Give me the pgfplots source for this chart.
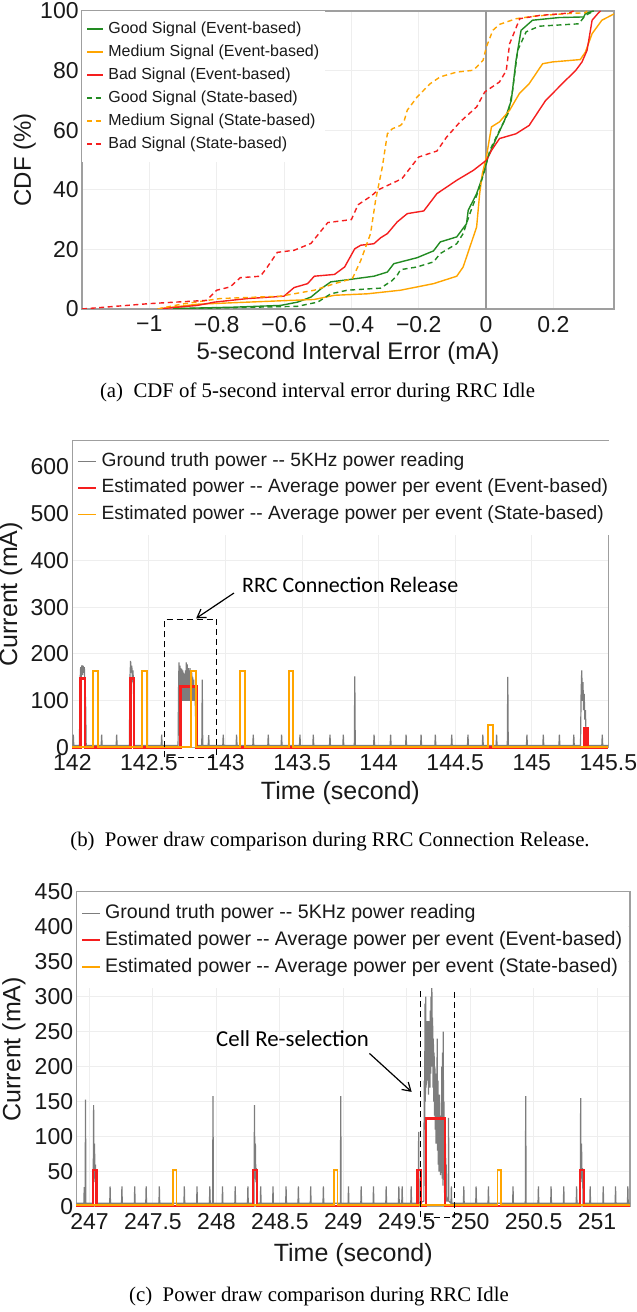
\documentclass[border=0pt]{standalone}
\usepackage{fontspec}
\setmainfont{Liberation Sans}
\newfontfamily\capfont{Liberation Serif}
\newfontfamily\annfont{Carlito}
\usepackage{pgfplots}
\pgfplotsset{compat=1.18}
\usetikzlibrary{arrows.meta}
\definecolor{cgreen}{RGB}{34,139,34}
\definecolor{corange}{RGB}{255,165,0}
\definecolor{cred}{RGB}{245,30,30}
\definecolor{cgray}{RGB}{125,125,125}
\definecolor{ctext}{RGB}{25,25,25}
\pgfplotsset{
  base/.style={
    scale only axis, anchor=south west,
    axis line style={draw=gray!75, line width=0.6pt},
    grid=major, major grid style={draw=gray!13, line width=0.5pt},
    major tick length=0pt,
    /pgf/number format/assume math mode=true,
    tick label style={text=ctext},
    label style={text=ctext},
    legend cell align=left,
  },
}
\begin{document}
\begin{tikzpicture}
\path[use as bounding box] (0,0) rectangle (318.5pt,656pt);

% ---------------- (a) ----------------
\begin{axis}[base, at={(41pt,501.5pt)}, width=266pt, height=149pt,
  xmin=-1.2, xmax=0.38, ymin=0, ymax=100,
  xtick={-1,-0.8,-0.6,-0.4,-0.2,0,0.2},
  xticklabels={−1,−0.8,−0.6,−0.4,−0.2,0,0.2},
  ytick={0,20,40,60,80,100},
  tick label style={font=\fontsize{11.5}{13}\selectfont},
  yticklabel style={inner xsep=1.5pt},
  xlabel={5-second Interval Error (mA)}, ylabel={CDF (\%)},
  label style={font=\fontsize{12}{14}\selectfont},
  xlabel style={at={(axis description cs:0.5,-0.147)}, anchor=center},
  ylabel style={at={(axis description cs:-0.108,0.5)}, anchor=center},
  legend image code/.code={\draw[#1] (0pt,0pt) -- (8pt,0pt);},
  legend style={at={(0,1)}, anchor=north west, draw=none, fill=white,
    inner xsep=2pt, inner ysep=3.9pt, text=ctext,
    font=\fontsize{8}{9}\selectfont, row sep=1.5pt,
    nodes={inner sep=1pt, text height=6pt, text depth=2pt},
    /tikz/every odd column/.append style={column sep=1.3pt}},
  every axis plot/.append style={line width=0.7pt},
]
\addplot[forget plot, draw=gray!80, line width=0.6pt] coordinates {(0,0) (0,100)};
\addplot[cgreen] coordinates {(-0.93,0) (-0.906,0.2) (-0.75,0.6) (-0.61,1.2) (-0.56,2.3) (-0.52,4) (-0.49,6.8) (-0.461,9.1) (-0.412,9.8) (-0.333,11) (-0.293,12.4) (-0.274,15.2) (-0.205,17.2) (-0.156,19.5) (-0.136,22.5) (-0.087,24.2) (-0.058,28.6) (-0.053,33.1) (-0.028,38.7) (-0.014,43.2) (0.006,51) (0.03,57.2) (0.055,63.3) (0.075,70) (0.089,83.4) (0.104,93.5) (0.138,96.9) (0.217,97.8) (0.29,98) (0.295,99.1) (0.31,99.7) (0.32,100)};
\addlegendentry{Good Signal (Event-based)}
\addplot[corange] coordinates {(-0.975,0) (-0.857,1.6) (-0.708,2.3) (-0.51,3.2) (-0.45,4.6) (-0.352,5.1) (-0.254,6.3) (-0.205,7.4) (-0.156,8.5) (-0.087,11) (-0.068,14.1) (-0.048,20.8) (-0.028,27.5) (-0.019,38.7) (-0.011,45.4) (0.001,51) (0.016,61.1) (0.04,62.8) (0.07,66.7) (0.099,72.3) (0.128,75.6) (0.168,82.3) (0.197,82.9) (0.28,83.7) (0.295,86.2) (0.315,92.4) (0.344,96.9) (0.378,98.9) (0.38,99)};
\addlegendentry{Medium Signal (Event-based)}
\addplot[cred] coordinates {(-0.975,0) (-0.857,1.2) (-0.807,2.3) (-0.708,3.5) (-0.6,4.3) (-0.57,7.2) (-0.53,8.5) (-0.51,11) (-0.45,11.6) (-0.42,14.1) (-0.39,20.2) (-0.372,21.4) (-0.333,21.9) (-0.313,23.9) (-0.293,25.3) (-0.264,29.2) (-0.234,32) (-0.185,32.9) (-0.146,38.7) (-0.117,40.9) (-0.087,43.2) (-0.038,46.5) (0.001,49.9) (0.016,53.2) (0.04,57.2) (0.089,58.8) (0.128,61.6) (0.177,70) (0.207,73.4) (0.236,76.7) (0.266,80) (0.285,82.9) (0.3,86.8) (0.315,96.9) (0.334,99.4) (0.34,100)};
\addlegendentry{Bad Signal (Event-based)}
\addplot[cgreen, dash pattern=on 2.5pt off 1.8pt] coordinates {(-0.93,0) (-0.906,0.1) (-0.56,0.9) (-0.5,2.3) (-0.461,5.1) (-0.412,6.3) (-0.313,7) (-0.293,8.5) (-0.283,9.1) (-0.264,11.3) (-0.254,13.2) (-0.205,14.1) (-0.156,15.8) (-0.136,18.6) (-0.087,21.9) (-0.068,25.3) (-0.048,32) (-0.024,39.3) (-0.004,46.5) (0.011,53.2) (0.035,58.8) (0.065,65.5) (0.079,73.4) (0.094,86.8) (0.119,93) (0.158,94.9) (0.275,95.7) (0.295,98.5) (0.315,99.7) (0.32,100)};
\addlegendentry{Good Signal (State-based)}
\addplot[corange, dash pattern=on 2.5pt off 1.8pt] coordinates {(-0.975,0) (-0.963,0.3) (-0.906,1.6) (-0.79,3.5) (-0.61,4.3) (-0.51,6.3) (-0.45,8.5) (-0.397,10.2) (-0.372,16.3) (-0.343,25.3) (-0.328,36.5) (-0.308,47.7) (-0.293,58.8) (-0.278,60.5) (-0.254,61.6) (-0.244,62.8) (-0.234,66.7) (-0.205,71.1) (-0.166,75.6) (-0.136,77.9) (-0.087,79.5) (-0.038,80.1) (-0.009,83.4) (0.001,87.9) (0.02,93.5) (0.04,95.5) (0.089,97.4) (0.138,98.2) (0.236,99.1) (0.295,99.4) (0.3,100)};
\addlegendentry{Medium Signal (State-based)}
\addplot[cred, dash pattern=on 2.5pt off 1.8pt] coordinates {(-1.2,0) (-1.0,1.8) (-0.83,2.9) (-0.8,6.3) (-0.76,7.4) (-0.73,10.5) (-0.67,11) (-0.65,14) (-0.62,19) (-0.57,19.7) (-0.52,22) (-0.47,29) (-0.40,30) (-0.38,35) (-0.34,38) (-0.32,40) (-0.25,43.7) (-0.2,51) (-0.146,53) (-0.117,57.7) (-0.077,62.8) (-0.028,67.8) (-0.004,72.8) (0.04,76.2) (0.06,80) (0.07,89) (0.10,97.4) (0.158,98.5) (0.246,99.3) (0.26,100)};
\addlegendentry{Bad Signal (State-based)}
\end{axis}
\node[font=\capfont\fontsize{10.4}{12}\selectfont] at (158.75pt,460pt) {(a)\hspace{0.5em}CDF of 5-second interval error during RRC Idle};

% ---------------- (b) ----------------
\begin{axis}[base, at={(36.2pt,282.15pt)}, width=268pt, height=153.5pt, clip=false,
  xmin=142, xmax=145.5, ymin=0, ymax=655,
  xtick={142,142.5,143,143.5,144,144.5,145,145.5},
  xticklabels={142,142.5,143,143.5,144,144.5,145,145.5},
  ytick={0,100,200,300,400,500,600},
  tick label style={font=\fontsize{11.5}{13}\selectfont},
  yticklabel style={inner xsep=1.5pt},
  xlabel={Time (second)}, ylabel={Current (mA)},
  label style={font=\fontsize{12.5}{14}\selectfont},
  xlabel style={at={(axis description cs:0.5,-0.148)}, anchor=center},
  ylabel style={at={(axis description cs:-0.115,0.5)}, anchor=center},
  legend image code/.code={\draw[#1] (0pt,0pt) -- (9pt,0pt);},
  legend style={at={(0,1)}, anchor=north west, draw=none, fill=white,
    inner xsep=2pt, inner ysep=4.5pt, text=ctext,
    font=\fontsize{9.6}{11}\selectfont, row sep=1.75pt,
    nodes={inner sep=1pt, text height=7.2pt, text depth=2.3pt},
    /tikz/every odd column/.append style={column sep=1pt}},
]
\addplot[cgray, line width=0.6pt] coordinates {
(142,5)(142.003,5)(142.006,28)(142.009,5)
(142.046,5)(142.05,140)(142.054,172)(142.058,150)(142.062,176)(142.066,155)(142.07,175)(142.074,160)(142.078,172)(142.082,130)(142.086,100)(142.09,5)
(142.188,5)(142.191,28)(142.194,5)
(142.286,5)(142.289,28)(142.292,5)
(142.372,5)(142.376,150)(142.38,185)(142.384,160)(142.388,175)(142.392,140)(142.396,165)(142.4,110)(142.404,5)
(142.58,5)(142.583,28)(142.586,5)
(142.69,5)(142.693,120)(142.696,182)(142.699,100)(142.702,175)(142.705,100)(142.708,170)(142.711,100)(142.714,168)(142.717,100)(142.72,165)(142.723,100)(142.726,160)(142.729,100)(142.732,158)(142.735,100)(142.738,165)(142.741,100)(142.744,182)(142.747,100)(142.75,178)(142.753,100)(142.756,170)(142.759,100)(142.762,165)(142.765,100)(142.768,170)(142.771,100)(142.774,165)(142.777,100)(142.78,160)(142.783,100)(142.786,150)(142.789,100)(142.792,145)(142.795,100)(142.8,130)(142.805,60)(142.81,5)
(142.845,5)(142.848,145)(142.851,5)
(142.887,5)(142.89,27)(142.893,5)
(142.982,5)(142.985,28)(142.988,5)
(143.069,5)(143.072,28)(143.075,5)
(143.178,5)(143.181,28)(143.184,5)
(143.276,5)(143.279,28)(143.282,5)
(143.363,5)(143.366,28)(143.369,5)
(143.483,5)(143.486,28)(143.489,5)
(143.57,5)(143.573,28)(143.576,5)
(143.679,5)(143.682,28)(143.685,5)
(143.766,5)(143.769,28)(143.772,5)
(143.841,5)(143.844,152)(143.847,5)
(143.967,5)(143.97,28)(143.973,5)
(144.075,5)(144.078,28)(144.081,5)
(144.176,5)(144.179,28)(144.182,5)
(144.274,5)(144.277,28)(144.28,5)
(144.367,5)(144.37,28)(144.373,5)
(144.474,5)(144.477,28)(144.48,5)
(144.58,5)(144.583,28)(144.586,5)
(144.677,5)(144.68,28)(144.683,5)
(144.767,5)(144.77,28)(144.773,5)
(144.84,5)(144.843,151)(144.846,5)
(144.965,5)(144.968,28)(144.971,5)
(145.072,5)(145.075,28)(145.078,5)
(145.177,5)(145.18,28)(145.183,5)
(145.271,5)(145.274,28)(145.277,5)
(145.318,5)(145.322,120)(145.326,165)(145.33,100)(145.334,140)(145.338,80)(145.342,115)(145.346,60)(145.35,80)(145.354,30)(145.358,5)
(145.457,5)(145.46,28)(145.463,5)(145.5,5)};
\addlegendentry{Ground truth power -{}- 5KHz power reading}
\addplot[cred, line width=1.4pt] coordinates {(142,1)(142.055,1)(142.055,148)(142.082,148)(142.082,1)(142.377,1)(142.377,148)(142.402,148)(142.402,1)(142.707,1)(142.707,130)(142.812,130)(142.812,1)(145.342,1)(145.342,41)(145.366,41)(145.366,1)(145.5,1)};
\addlegendentry{Estimated power -{}- Average power per event (Event-based)}
\addplot[corange, line width=0.9pt] coordinates {(142,2)(142.137,2)(142.137,164)(142.169,164)(142.169,2)(142.455,2)(142.455,164)(142.489,164)(142.489,2)(142.775,2)(142.775,164)(142.807,164)(142.807,2)(143.095,2)(143.095,164)(143.125,164)(143.125,2)(143.413,2)(143.413,164)(143.443,164)(143.443,2)(144.716,2)(144.716,48)(144.745,48)(144.745,2)(145.5,2)};
\addlegendentry{Estimated power -{}- Average power per event (State-based)}
\draw[black, line width=0.6pt, dash pattern=on 3pt off 2pt] (axis cs:142.603,-20.6) rectangle (axis cs:142.941,274);
\draw[black, line width=0.6pt, -{Straight Barb[length=4pt,width=5pt]}] (axis cs:143.055,330) -- (axis cs:142.808,276);
\node[font=\annfont\fontsize{11}{13}\selectfont, text=black] at (axis cs:143.814,347) {RRC Connection Release};
\end{axis}
\node[font=\capfont\fontsize{10.4}{12}\selectfont] at (165pt,235pt) {(b)\hspace{0.5em}Power draw comparison during RRC Connection Release.};

% ---------------- (c) ----------------
\begin{axis}[base, at={(38.25pt,52.65pt)}, width=276.75pt, height=157.5pt, clip=false,
  xmin=246.897, xmax=251.26, ymin=0, ymax=450,
  xtick={247,247.5,248,248.5,249,249.5,250,250.5,251},
  xticklabels={247,247.5,248,248.5,249,249.5,250,250.5,251},
  ytick={0,50,100,150,200,250,300,350,400,450},
  tick label style={font=\fontsize{11.5}{13}\selectfont},
  yticklabel style={inner xsep=1.5pt},
  xlabel={Time (second)}, ylabel={Current (mA)},
  label style={font=\fontsize{12.5}{14}\selectfont},
  xlabel style={at={(axis description cs:0.5,-0.152)}, anchor=center},
  ylabel style={at={(axis description cs:-0.113,0.5)}, anchor=center},
  legend image code/.code={\draw[#1] (0pt,0pt) -- (9pt,0pt);},
  legend style={at={(0,1)}, anchor=north west, draw=none, fill=white,
    inner xsep=2pt, inner ysep=4.5pt, text=ctext,
    font=\fontsize{9.8}{11}\selectfont, row sep=1.5pt,
    nodes={inner sep=1pt, text height=7.5pt, text depth=2.5pt},
    /tikz/every odd column/.append style={column sep=1pt}},
]
\addplot[cgray, line width=0.6pt] coordinates {
(246.897,5)(246.955,5)(246.958,28)(246.961,5)(246.965,5)(246.968,153)(246.971,5)
(247.028,5)(247.032,145)(247.035,40)(247.039,90)(247.043,35)(247.047,60)(247.051,5)
(247.159,5)(247.162,29)(247.165,5)
(247.252,5)(247.255,29)(247.258,5)
(247.353,5)(247.356,29)(247.359,5)
(247.443,5)(247.446,29)(247.449,5)
(247.547,5)(247.55,29)(247.553,5)
(247.744,5)(247.747,29)(247.75,5)
(247.844,5)(247.847,29)(247.85,5)
(247.945,5)(247.948,29)(247.951,5)
(247.97,5)(247.973,158)(247.976,5)
(248.045,5)(248.048,29)(248.051,5)
(248.145,5)(248.148,29)(248.151,5)
(248.245,5)(248.248,29)(248.251,5)
(248.296,5)(248.3,145)(248.303,40)(248.307,90)(248.311,35)(248.315,55)(248.319,5)
(248.346,5)(248.349,29)(248.352,5)
(248.443,5)(248.446,29)(248.449,5)
(248.546,5)(248.549,29)(248.552,5)
(248.643,5)(248.646,29)(248.649,5)
(248.74,5)(248.743,29)(248.746,5)
(248.84,5)(248.843,29)(248.846,5)
(248.977,5)(248.98,158)(248.983,5)
(249.038,5)(249.041,29)(249.044,5)
(249.138,5)(249.141,29)(249.144,5)
(249.235,5)(249.238,29)(249.241,5)
(249.335,5)(249.338,29)(249.341,5)
(249.435,5)(249.438,29)(249.441,5)(249.461,5)(249.464,29)(249.467,5)
(249.532,5)(249.535,29)(249.538,5)
(249.591,5)(249.594,107)(249.597,5)
(249.635,8)(249.638,180)(249.641,110)(249.644,290)(249.647,150)(249.65,300)(249.653,170)(249.656,260)(249.659,190)(249.662,265)(249.665,180)(249.668,250)(249.671,160)(249.674,265)(249.677,200)(249.68,250)(249.683,170)(249.686,280)(249.689,190)(249.692,300)(249.695,210)(249.698,325)(249.701,200)(249.704,270)(249.707,170)(249.71,240)(249.713,150)(249.716,220)(249.719,130)(249.722,200)(249.725,110)(249.728,190)(249.731,90)(249.734,170)(249.737,100)(249.74,240)(249.743,80)(249.746,180)(249.749,60)(249.752,150)(249.755,50)(249.758,160)(249.761,70)(249.764,120)(249.767,45)(249.77,130)(249.773,60)(249.776,200)(249.779,40)(249.782,220)(249.785,30)(249.788,250)(249.791,60)(249.794,150)(249.797,20)(249.8,100)(249.803,25)(249.806,90)(249.809,15)(249.812,60)(249.815,8)(249.828,8)(249.83,127)(249.832,8)
(249.849,5)(249.852,29)(249.855,5)
(249.947,5)(249.95,29)(249.953,5)
(250.044,5)(250.047,29)(250.05,5)
(250.141,5)(250.144,29)(250.147,5)
(250.335,5)(250.338,29)(250.341,5)
(250.435,5)(250.438,158)(250.441,5)
(250.535,5)(250.538,29)(250.541,5)
(250.635,5)(250.638,29)(250.641,5)
(250.735,5)(250.738,29)(250.741,5)
(250.836,5)(250.839,29)(250.842,5)
(250.868,5)(250.871,155)(250.874,40)(250.878,90)(250.882,35)(250.886,55)(250.89,5)
(250.943,5)(250.946,29)(250.949,5)
(251.046,5)(251.049,29)(251.052,5)
(251.143,5)(251.146,29)(251.149,5)
(251.24,5)(251.243,29)(251.246,5)(251.26,5)};
\addlegendentry{Ground truth power -{}- 5KHz power reading}
\addplot[cred, line width=1.1pt] coordinates {(246.897,1)(247.025,1)(247.025,52)(247.055,52)(247.055,1)(248.29,1)(248.29,52)(248.32,52)(248.32,1)(249.585,1)(249.585,52)(249.615,52)(249.615,1)(249.655,1)(249.655,126)(249.8,126)(249.8,1)(250.865,1)(250.865,52)(250.895,52)(250.895,1)(251.26,1)};
\addlegendentry{Estimated power -{}- Average power per event (Event-based)}
\addplot[corange, line width=0.9pt] coordinates {(246.897,2)(247.655,2)(247.655,52)(247.685,52)(247.685,2)(248.925,2)(248.925,52)(248.955,52)(248.955,2)(250.215,2)(250.215,52)(250.245,52)(250.245,2)(251.26,2)};
\addlegendentry{Estimated power -{}- Average power per event (State-based)}
\draw[black, line width=0.6pt, dash pattern=on 3pt off 2pt] (axis cs:249.61,-15.3) rectangle (axis cs:249.875,329);
\draw[black, line width=0.6pt, -{Straight Barb[length=4pt,width=5pt]}] (axis cs:249.206,219) -- (axis cs:249.539,164);
\node[font=\annfont\fontsize{11.4}{13}\selectfont, text=black] at (axis cs:248.6,240.6) {Cell Re-selection};
\end{axis}
\node[font=\capfont\fontsize{10.4}{12}\selectfont] at (159.5pt,7.5pt) {(c)\hspace{0.5em}Power draw comparison during RRC Idle};
\end{tikzpicture}
\end{document}
